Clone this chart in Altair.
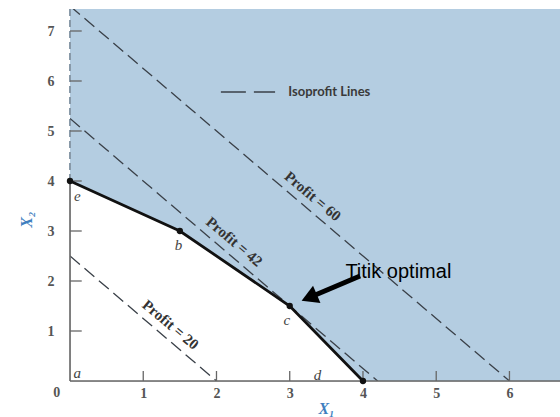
import altair as alt
import pandas as pd

# ---------------- data ----------------
X_MAX = 6.69
Y_MAX = 7.44

# feasible-region frontier (corner points e, b, c, d) extended to the right edge
region_x = [0, 1.5, 3, 4, X_MAX]
region_y = [4, 3, 1.5, 0, 0]

corner_names = ["e", "b", "c", "d"]
corner_x = [0, 1.5, 3, 4]
corner_y = [4, 3, 1.5, 0]

label_names = ["a", "e", "b", "c", "d"]
label_x = [0.1, 0.1, 1.48, 2.96, 3.38]
label_y = [0.16, 3.7, 2.72, 1.22, 0.12]

# isoprofit lines (profit = 10*X1 + 8*X2), endpoints on the axes
profit_values = [20, 42, 60]
profit_start = [(0, 2.5), (0, 5.25), (0, 7.5)]
profit_end = [(2, 0), (4.2, 0), (6, 0)]
profit_label_pos = [(1.26, 0.93), (2.13, 2.59), (3.2, 3.5)]

x_ticks = [1, 2, 3, 4, 5, 6]
y_ticks = [1, 2, 3, 4, 5, 6, 7]

legend_line_x = [2.06, 2.80]
legend_y = 5.78
legend_text_x = 2.98

arrow_tail = (3.96, 2.1)
arrow_head = (3.30, 1.69)
annot_pos = (3.76, 2.06)

BLUE = "#b4cde1"
GRAY = "#666666"

# ---------------- tables ----------------
region_df = pd.DataFrame({"x": region_x, "y": region_y, "top": Y_MAX})
corner_df = pd.DataFrame({"name": corner_names, "x": corner_x, "y": corner_y})
labels_df = pd.DataFrame({"name": label_names, "x": label_x, "y": label_y})

rows = []
for p, s, e in zip(profit_values, profit_start, profit_end):
    rows.append({"profit": p, "x": s[0], "y": s[1], "o": 0})
    rows.append({"profit": p, "x": e[0], "y": e[1], "o": 1})
profit_df = pd.DataFrame(rows)
plabel_df = pd.DataFrame({
    "text": [f"Profit = {p}" for p in profit_values],
    "x": [q[0] for q in profit_label_pos],
    "y": [q[1] for q in profit_label_pos],
})

xtick_df = pd.DataFrame({"x": x_ticks, "y": 0, "y2": 0.2})
ytick_df = pd.DataFrame({"y": y_ticks, "x": 0, "x2": 0.16})

xs = alt.Scale(domain=[0, X_MAX], nice=False, zero=False)
ys = alt.Scale(domain=[0, Y_MAX], nice=False, zero=False)

x_axis = alt.Axis(
    values=x_ticks, domain=False, ticks=False, grid=False,
    labelFont="Liberation Serif", labelFontWeight="bold", labelFontSize=14,
    labelColor="#555555", labelPadding=5,
    title="X₁", titleFont="Liberation Serif", titleFontStyle="italic",
    titleFontWeight="bold", titleFontSize=16, titleColor="#3f7fbf",
    titleX=256, titleY=19,
)
y_axis = alt.Axis(
    values=y_ticks, domain=False, ticks=False, grid=False,
    labelFont="Liberation Serif", labelFontWeight="bold", labelFontSize=14,
    labelColor="#555555", labelPadding=16,
    title="X₂", titleFont="Liberation Serif", titleFontStyle="italic",
    titleFontWeight="bold", titleFontSize=16, titleColor="#3f7fbf",
    titleX=-36, titleY=210, titleAngle=270,
)

X = lambda f="x": alt.X(f"{f}:Q", scale=xs, axis=x_axis)
Y = lambda f="y": alt.Y(f"{f}:Q", scale=ys, axis=y_axis)

# ---------------- layers ----------------
region = alt.Chart(region_df).mark_area(color=BLUE, opacity=1, interpolate="linear").encode(
    x=X(), y=Y(), y2="top:Q",
)

yaxis_solid = alt.Chart(pd.DataFrame({"x": [0], "y": [0], "y2": [4]})).mark_rule(
    color=GRAY, strokeWidth=1.6
).encode(x=X(), y=Y(), y2="y2:Q")

yaxis_dashed = alt.Chart(pd.DataFrame({"x": [0], "y": [4], "y2": [Y_MAX]})).mark_rule(
    color="#8899a8", strokeWidth=2, strokeDash=[7, 4]
).encode(x=X(), y=Y(), y2="y2:Q")

xaxis_line = alt.Chart(pd.DataFrame({"x": [0], "x2": [X_MAX], "y": [0]})).mark_rule(
    color=GRAY, strokeWidth=1.6
).encode(x=X(), x2="x2:Q", y=Y())

xticks = alt.Chart(xtick_df).mark_rule(color=GRAY, strokeWidth=1.3).encode(
    x=X(), y=Y(), y2="y2:Q"
)
yticks = alt.Chart(ytick_df).mark_rule(color=GRAY, strokeWidth=1.3).encode(
    y=Y(), x=X(), x2="x2:Q"
)

profit_lines = alt.Chart(profit_df).mark_line(
    color="#3a4048", strokeWidth=1.3, strokeDash=[13, 6], clip=True
).encode(x=X(), y=Y(), detail="profit:N", order="o:Q")

frontier = alt.Chart(corner_df).mark_line(color="#111111", strokeWidth=2.8).encode(x=X(), y=Y())
points = alt.Chart(corner_df).mark_point(
    filled=True, color="#111111", size=40, opacity=1
).encode(x=X(), y=Y())

point_labels = alt.Chart(labels_df).mark_text(
    font="Liberation Serif", fontStyle="italic", fontSize=15, color="#444444",
    align="center", baseline="middle",
).encode(x=X(), y=Y(), text="name:N")

profit_labels = alt.Chart(plabel_df).mark_text(
    font="Liberation Serif", fontWeight="bold", fontSize=15, color="#333333",
    angle=40, align="center", baseline="middle", dy=-13,
).encode(x=X(), y=Y(), text="text:N")

legend_line = alt.Chart(pd.DataFrame({"x": [legend_line_x[0]], "x2": [legend_line_x[1]], "y": [legend_y]})).mark_rule(
    color="#3a4048", strokeWidth=1.4, strokeDash=[25, 8]
).encode(x=X(), x2="x2:Q", y=Y())

legend_text = alt.Chart(pd.DataFrame({"x": [legend_text_x], "y": [legend_y], "t": ["Isoprofit Lines"]})).mark_text(
    font="Lato", fontWeight="bold", fontSize=13, color="#3a3a3a",
    align="left", baseline="middle",
).encode(x=X(), y=Y(), text="t:N")

arrow_line = alt.Chart(pd.DataFrame({
    "x": [arrow_tail[0]], "y": [arrow_tail[1]], "x2": [arrow_head[0]], "y2": [arrow_head[1]]
})).mark_rule(color="black", strokeWidth=5).encode(x=X(), y=Y(), x2="x2:Q", y2="y2:Q")

arrow_tip = alt.Chart(pd.DataFrame({"x": [arrow_head[0]], "y": [arrow_head[1]]})).mark_point(
    shape="triangle", filled=True, color="black", size=360, angle=247, opacity=1
).encode(x=X(), y=Y())

annot = alt.Chart(pd.DataFrame({"x": [annot_pos[0]], "y": [annot_pos[1]], "t": ["Titik optimal"]})).mark_text(
    font="Liberation Sans", fontSize=20, color="black", align="left", baseline="alphabetic"
).encode(x=X(), y=Y(), text="t:N")

origin = alt.Chart(pd.DataFrame({"x": [-0.18], "y": [-0.24], "t": ["0"]})).mark_text(
    font="Liberation Serif", fontWeight="bold", fontSize=14, color="#555555",
    align="center", baseline="middle",
).encode(x=X(), y=Y(), text="t:N")

chart = alt.layer(
    region, yaxis_dashed, profit_lines, xaxis_line, yaxis_solid, xticks, yticks,
    frontier, points, point_labels, profit_labels, legend_line, legend_text,
    arrow_line, arrow_tip, annot, origin,
).properties(
    width=490, height=372,
    autosize=alt.AutoSizeParams(type="none"),
    padding={"left": 70, "top": 9, "right": 0, "bottom": 36},
).configure_view(stroke=None).configure(background="white")

chart.save("out.html", embed_options={"renderer": "svg", "actions": False})
